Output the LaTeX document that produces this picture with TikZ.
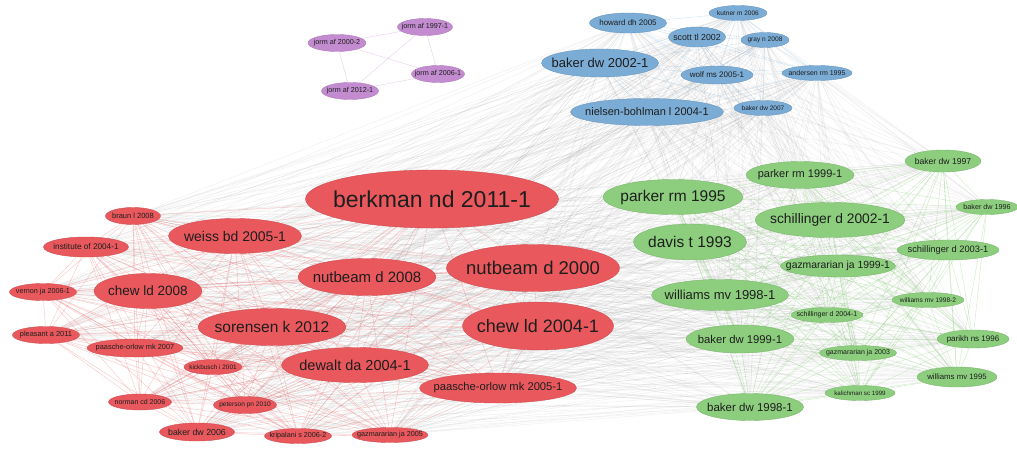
\documentclass[tikz,border=0pt]{standalone}
\usepackage{fontspec}
\setmainfont{Liberation Sans}
\usetikzlibrary{shapes.geometric,backgrounds}
\definecolor{rednode}{RGB}{232,88,92}
\definecolor{greennode}{RGB}{140,206,125}
\definecolor{bluenode}{RGB}{122,172,214}
\definecolor{purplenode}{RGB}{196,140,208}
\definecolor{labeltext}{RGB}{30,30,30}
\newcommand{\lblsize}[1]{\fontsize{#1}{#1}\selectfont}
\def\pub[#1](#2)(#3,#4)(#5:#6:#7)#8{\node[nd=#1, minimum width=#5pt, minimum height=#6pt, label={[font=\lblsize{#7}]center:#8}] (#2) at (#3,#4) {};}
\tikzset{
  nd/.style={ellipse, inner sep=0pt, draw=#1!88!black, line width=0.4pt, fill=#1},
  every label/.append style={text=labeltext, inner sep=0pt},
  link/.style={line width=0.55pt, draw=#1}
}

\begin{document}
\begin{tikzpicture}[x=1pt, y=-1pt]
		%%%%% START %%%%%
		\useasboundingbox (0,0) rectangle (1017,450);
		
		% red cluster
		\pub[rednode](berkman)(432,199)(253:58:23){berkman nd 2011-1}
		\pub[rednode](weiss)(235,236)(133:35:14){weiss bd 2005-1}
		\pub[rednode](nutbeamB)(367,277)(138:37:15){nutbeam d 2008}
		\pub[rednode](nutbeamA)(533,268)(173:47:18.5){nutbeam d 2000}
		\pub[rednode](chewB)(148,291)(108:35:13.5){chew ld 2008}
		\pub[rednode](sorensen)(272,327)(148:37:15.5){sorensen k 2012}
		\pub[rednode](chewA)(538,326)(151:48:18){chew ld 2004-1}
		\pub[rednode](dewalt)(355,365)(147:35:14.5){dewalt da 2004-1}
		\pub[rednode](paascheA)(498,388)(157:30:11.2){paasche-orlow mk 2005-1}
		\pub[rednode](braun)(133,216)(55:17:7.5){braun l 2008}
		\pub[rednode](institute)(86,247)(85:20:8.2){institute of 2004-1}
		\pub[rednode](vernon)(43,292)(67:17:7.2){vernon ja 2006-1}
		\pub[rednode](pleasant)(46,335)(67:17:7.4){pleasant a 2011}
		\pub[rednode](paascheB)(135,348)(96:18:7.4){paasche-orlow mk 2007}
		\pub[rednode](kickbusch)(213,367)(58:15:6.4){kickbusch i 2001}
		\pub[rednode](norman)(140,402)(63:16:7){norman cd 2006}
		\pub[rednode](peterson)(245,405)(63:17:6.6){peterson pn 2010}
		\pub[rednode](bakerR)(197,432)(75:18:8.8){baker dw 2006}
		\pub[rednode](kripalani)(298,436)(67:15:7.2){kripalani s 2006-2}
		\pub[rednode](gazmaR)(390,435)(76:15:7.2){gazmararian ja 2005}
		
		% green cluster
		\pub[greennode](parkerA)(673,197)(140:35:15.5){parker rm 1995}
		\pub[greennode](davis)(690,242)(113:36:15.5){davis t 1993}
		\pub[greennode](williamsA)(720,295)(137:31:13){williams mv 1998-1}
		\pub[greennode](bakerGA)(740,339)(108:28:11.3){baker dw 1999-1}
		\pub[greennode](bakerGB)(750,407)(107:27:11.5){baker dw 1998-1}
		\pub[greennode](parkerB)(800,175)(108:27:11){parker rm 1999-1}
		\pub[greennode](bakerG97)(943,161)(76:22:8.6){baker dw 1997}
		\pub[greennode](schillA)(830,220)(150:35:13.8){schillinger d 2002-1}
		\pub[greennode](bakerG96)(987,207)(62:15:7.2){baker dw 1996}
		\pub[greennode](schillB)(948,250)(102:20:9.3){schillinger d 2003-1}
		\pub[greennode](gazmaA)(838,266)(115:22:10.4){gazmararian ja 1999-1}
		\pub[greennode](schillC)(827,315)(72:15:7){schillinger d 2004-1}
		\pub[greennode](williamsB)(928,300)(72:15:6.6){williams mv 1998-2}
		\pub[greennode](parikh)(973,339)(72:18:8){parikh ns 1996}
		\pub[greennode](gazmaB)(858,353)(77:15:7){gazmararian ja 2003}
		\pub[greennode](williamsC)(957,377)(80:20:7.8){williams mv 1995}
		\pub[greennode](kalichman)(860,393)(70:15:6.2){kalichman sc 1999}
		
		% blue cluster
		\pub[bluenode](howard)(628,23)(77:20:8){howard dh 2005}
		\pub[bluenode](kutner)(738,13)(58:15:6.5){kutner m 2006}
		\pub[bluenode](scott)(697,37)(57:20:8.8){scott tl 2002}
		\pub[bluenode](gray)(765,40)(48:15:6.6){gray n 2008}
		\pub[bluenode](bakerB02)(600,63)(117:28:13){baker dw 2002-1}
		\pub[bluenode](wolf)(717,75)(72:18:8){wolf ms 2005-1}
		\pub[bluenode](andersen)(817,73)(70:15:7){andersen rm 1995}
		\pub[bluenode](nielsen)(647,112)(153:27:11){nielsen-bohlman l 2004-1}
		\pub[bluenode](bakerB07)(763,108)(58:15:6.5){baker dw 2007}
		
		% purple cluster
		\pub[purplenode](jorm97)(425,27)(55:17:7.2){jorm af 1997-1}
		\pub[purplenode](jorm00)(337,43)(58:17:7.2){jorm af 2000-2}
		\pub[purplenode](jorm06)(438,74)(53:17:7.2){jorm af 2006-1}
		\pub[purplenode](jorm12)(350,91)(57:17:7.2){jorm af 2012-1}
		
		\begin{pgfonlayer}{background}
		\def\redset{berkman,weiss,nutbeamB,nutbeamA,chewB,sorensen,chewA,dewalt,paascheA,braun,institute,vernon,pleasant,paascheB,kickbusch,norman,peterson,bakerR,kripalani,gazmaR}
		\def\greenset{parkerA,davis,williamsA,bakerGA,bakerGB,parkerB,bakerG97,schillA,bakerG96,schillB,gazmaA,schillC,williamsB,parikh,gazmaB,williamsC,kalichman}
		\def\blueset{howard,kutner,scott,gray,bakerB02,wolf,andersen,nielsen,bakerB07}
		
		% links between clusters
		\foreach \a in \redset {
			\foreach \b in \greenset {\draw[link=gray, opacity=0.11] (\a) -- (\b);}
			\foreach \b in \blueset {\draw[link=gray, opacity=0.11] (\a) -- (\b);}
		}
		\foreach \a in \greenset {
			\foreach \b in \blueset {\draw[link=gray, opacity=0.11] (\a) -- (\b);}
		}
		
		% links inside clusters
		\foreach \a [count=\i] in \redset {
			\foreach \b [count=\j] in \redset {\ifnum\j>\i \draw[link=rednode, opacity=0.28] (\a) -- (\b); \fi}
		}
		\foreach \a [count=\i] in \greenset {
			\foreach \b [count=\j] in \greenset {\ifnum\j>\i \draw[link=greennode, opacity=0.35] (\a) -- (\b); \fi}
		}
		\foreach \a [count=\i] in \blueset {
			\foreach \b [count=\j] in \blueset {\ifnum\j>\i \draw[link=bluenode, opacity=0.25] (\a) -- (\b); \fi}
		}
		\foreach \a/\b in {jorm97/jorm00,jorm97/jorm06,jorm97/jorm12,jorm00/jorm06,jorm00/jorm12,jorm06/jorm12}
			\draw[link=purplenode, opacity=0.35] (\a) -- (\b);
		\end{pgfonlayer}
		%%%%% END %%%%%
\end{tikzpicture}
\end{document}
